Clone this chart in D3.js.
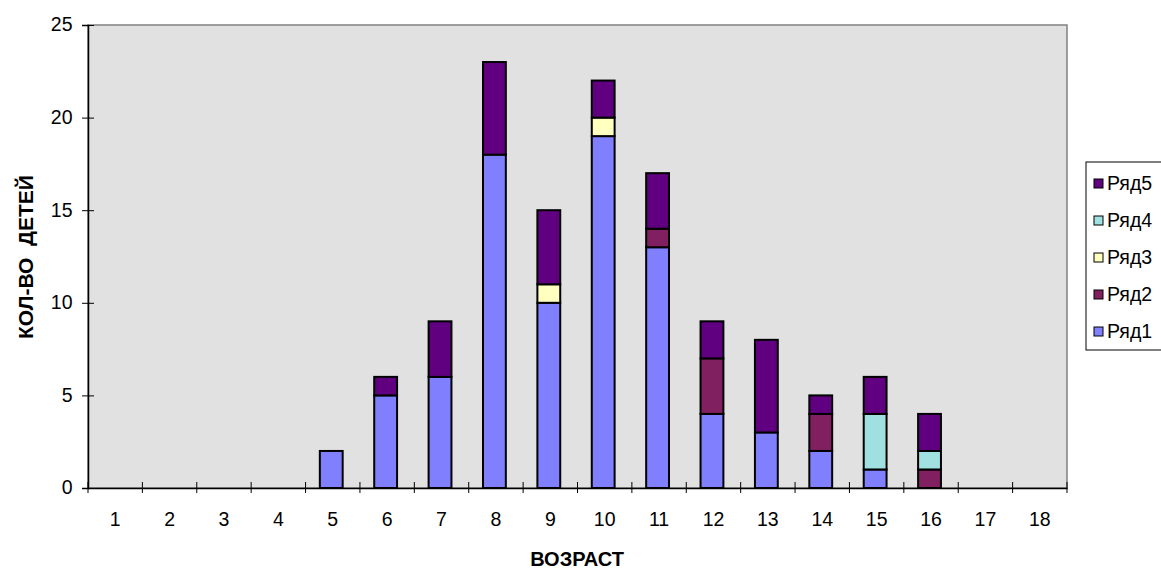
<!DOCTYPE html>
<html>
<head>
<meta charset="utf-8">
<script src="https://cdn.jsdelivr.net/npm/d3@7"></script>
<style>
  body { margin: 0; background: #fff; }
  text { font-family: "Liberation Sans", Arial, sans-serif; }
</style>
</head>
<body>
<div id="chart"></div>
<script>
const ages = ["1","2","3","4","5","6","7","8","9","10","11","12","13","14","15","16","17","18"];
const seriesNames = ["Ряд1", "Ряд2", "Ряд3", "Ряд4", "Ряд5"];
const row1 = [0,0,0,0,2,5,6,18,10,19,13,4,3,2,1,0,0,0];
const row2 = [0,0,0,0,0,0,0,0,0,0,1,3,0,2,0,1,0,0];
const row3 = [0,0,0,0,0,0,0,0,1,1,0,0,0,0,0,0,0,0];
const row4 = [0,0,0,0,0,0,0,0,0,0,0,0,0,0,3,1,0,0];
const row5 = [0,0,0,0,0,1,3,5,4,2,3,2,5,1,2,2,0,0];
const colors = ["#8080ff", "#802060", "#ffffc0", "#a0e0e0", "#600080"];
const yTicks = [0, 5, 10, 15, 20, 25];

const width = 1161, height = 569;
const plot = { left: 88, top: 25, right: 1067, bottom: 488 };
const font = "'Liberation Sans', Arial, sans-serif";

const svg = d3.select("#chart").append("svg")
  .attr("width", width).attr("height", height);

const table = ages.map((a, i) => ({
  age: a, "Ряд1": row1[i], "Ряд2": row2[i], "Ряд3": row3[i], "Ряд4": row4[i], "Ряд5": row5[i]
}));
const stacked = d3.stack().keys(seriesNames)(table);

const pad = 0.58;
const x = d3.scaleBand().domain(ages).range([plot.left, plot.right])
  .paddingInner(pad).paddingOuter(pad / 2);
const y = d3.scaleLinear().domain([0, 25]).range([plot.bottom, plot.top]);

// plot area
svg.append("rect")
  .attr("x", plot.left).attr("y", plot.top)
  .attr("width", plot.right - plot.left).attr("height", plot.bottom - plot.top)
  .attr("fill", "#e1e1e1").attr("stroke", "#808080").attr("stroke-width", 1.5);

// bars
svg.append("g").selectAll("g").data(stacked).join("g")
  .attr("fill", (d, i) => colors[i])
  .selectAll("rect").data(d => d.filter(p => p[1] > p[0])).join("rect")
  .attr("x", d => x(d.data.age) - 1.5)
  .attr("y", d => y(d[1]))
  .attr("width", x.bandwidth())
  .attr("height", d => y(d[0]) - y(d[1]))
  .attr("stroke", "#000").attr("stroke-width", 2);

// y axis
const gy = svg.append("g")
  .attr("transform", `translate(${plot.left},0)`)
  .call(d3.axisLeft(y).tickValues(yTicks).tickSize(6).tickPadding(9.5));
gy.select(".domain").attr("stroke", "#000").attr("stroke-width", 1.5);
gy.selectAll(".tick line").attr("x1", 6).attr("x2", -6).attr("stroke", "#000");
gy.selectAll(".tick text").attr("font-size", 19.5).attr("fill", "#000")
  .attr("dy", "0.3em").style("font-family", font);

// x axis
const gx = svg.append("g")
  .attr("transform", `translate(0,${plot.bottom})`)
  .call(d3.axisBottom(x).tickSize(0).tickPadding(24));
gx.select(".domain").attr("stroke", "#000").attr("stroke-width", 1.5);
gx.selectAll(".tick text").attr("font-size", 19.5).attr("fill", "#000")
  .style("font-family", font);
const bounds = d3.range(ages.length + 1).map(i => plot.left + i * x.step());
gx.selectAll(".bound").data(bounds).join("line")
  .attr("class", "bound")
  .attr("x1", d => d).attr("x2", d => d)
  .attr("y1", -6).attr("y2", 5)
  .attr("stroke", "#000");

// axis titles
svg.append("text")
  .attr("x", 577).attr("y", 566)
  .attr("text-anchor", "middle").attr("font-size", 20).attr("font-weight", "bold")
  .text("ВОЗРАСТ");
svg.append("text")
  .attr("transform", `translate(33,257) rotate(-90)`)
  .attr("text-anchor", "middle").attr("font-size", 21).attr("font-weight", "bold")
  .attr("xml:space", "preserve").style("white-space", "pre")
  .text("КОЛ-ВО  ДЕТЕЙ");

// legend
const legend = svg.append("g");
legend.append("rect")
  .attr("x", 1086).attr("y", 162).attr("width", 100).attr("height", 188)
  .attr("fill", "#fff").attr("stroke", "#000").attr("stroke-width", 1);
const items = seriesNames.map((n, i) => ({ name: n, color: colors[i] })).reverse();
const li = legend.selectAll(".item").data(items).join("g")
  .attr("class", "item")
  .attr("transform", (d, i) => `translate(1094,${183.5 + i * 37})`);
li.append("rect")
  .attr("x", 0).attr("y", -4.5).attr("width", 9).attr("height", 9)
  .attr("fill", d => d.color).attr("stroke", "#000").attr("stroke-width", 1);
li.append("text")
  .attr("x", 13).attr("y", 0).attr("dy", "0.35em")
  .attr("font-size", 19.5).text(d => d.name);
</script>
</body>
</html>
